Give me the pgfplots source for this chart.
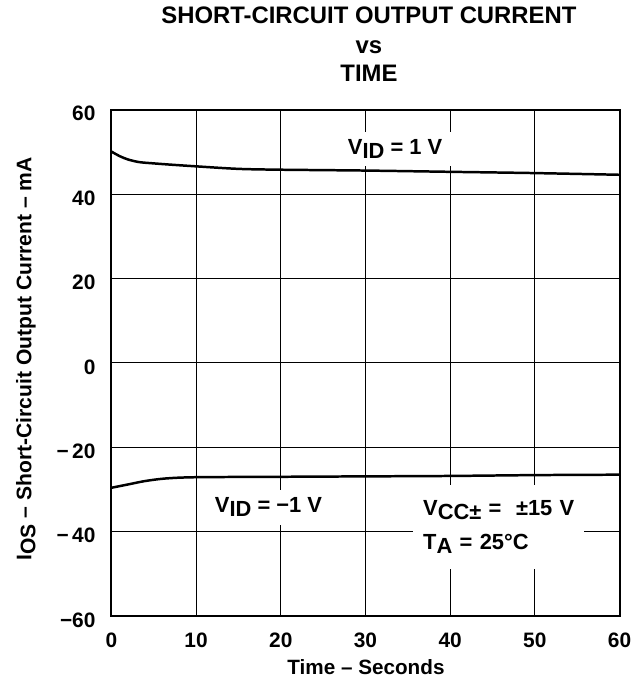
\documentclass[border=0pt]{standalone}
\usepackage{fontspec}
\setmainfont{Liberation Sans}
\usepackage{pgfplots}
\pgfplotsset{compat=1.18}
\newcommand\sbs[1]{\raisebox{-2pt}{#1}}
\begin{document}
\begin{tikzpicture}
\begin{axis}[name=ax, width=255.5pt, height=254.5pt, scale only axis,
  xmin=0, xmax=60, ymin=-60, ymax=60,
  xtick={0,10,20,30,40,50,60}, ytick={-60,-40,-20,0,20,40,60},
  xticklabels={0,10,20,30,40,50,60},
  yticklabels={−60,−\,40,−\,20,0,20,40,60},
  grid=major, major grid style={black, line width=0.5pt},
  major tick length=0pt,
  axis line style={black, line width=1pt},
  tick label style={font=\fontsize{10.5}{12}\selectfont\bfseries},
  xticklabel style={anchor=north, inner sep=0pt, yshift=-8.5pt},
  yticklabel style={anchor=east, inner sep=0pt, xshift=-7.8pt, yshift=-2pt},
  clip=false]
\addplot[black, line width=1.25pt, smooth] coordinates {
  (0,50.1) (1,49.0) (2,48.2) (3.3,47.6) (5,47.3) (7,47.0) (10,46.6) (15,46.0)
  (20,45.8) (30,45.6) (40,45.3) (50,45.0) (60,44.6)};
\addplot[black, line width=1.25pt, smooth] coordinates {
  (0,-29.6) (2,-28.8) (4,-28.0) (6.4,-27.4) (10,-27.1) (20,-27.0)
  (30,-26.9) (40,-26.8) (50,-26.6) (60,-26.5)};
\node[fill=white, anchor=base, inner xsep=6pt, inner ysep=4pt,
  font=\fontsize{11}{13}\selectfont\bfseries] at (axis cs:33.5,49.4)
  {V\sbs{ID} = 1 V};
\node[fill=white, anchor=base, inner xsep=6pt, inner ysep=4pt,
  font=\fontsize{11}{13}\selectfont\bfseries] at (axis cs:18.55,-35.5)
  {V\sbs{ID} = −1 V};
\node[fill=white, anchor=north west, inner xsep=5pt, inner ysep=7.5pt,
  text width=76pt, align=left,
  font=\fontsize{11}{17.5}\selectfont\bfseries] at (axis cs:35.6,-28.9)
  {V\sbs{CC±} =\ \ ±15 V\\T\sbs{A} = 25°C};
\end{axis}
\node[anchor=base, font=\fontsize{12}{14}\selectfont\bfseries]
  at ([xshift=129.5pt,yshift=298pt]ax.south west) {SHORT-CIRCUIT OUTPUT CURRENT};
\node[anchor=base, font=\fontsize{12}{14}\selectfont\bfseries]
  at ([xshift=129.5pt,yshift=283pt]ax.south west) {vs};
\node[anchor=base, font=\fontsize{12}{14}\selectfont\bfseries]
  at ([xshift=129.5pt,yshift=268.5pt]ax.south west) {TIME};
\node[anchor=base, font=\fontsize{10.4}{12}\selectfont\bfseries]
  at ([xshift=128pt,yshift=-29.25pt]ax.south west) {Time – Seconds};
\node[anchor=base, rotate=90, font=\fontsize{10.6}{12}\selectfont\bfseries]
  at ([xshift=-40.2pt,yshift=129.3pt]ax.south west)
  {I\sbs{OS} – Short-Circuit Output Current – mA};
\path ([xshift=-56pt,yshift=-31pt]ax.south west) rectangle ([xshift=12pt,yshift=55pt]ax.north east);
\end{tikzpicture}
\end{document}
